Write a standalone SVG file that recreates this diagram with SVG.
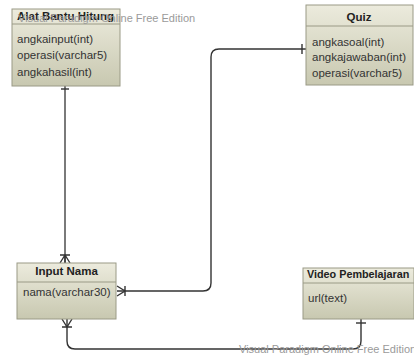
<svg xmlns="http://www.w3.org/2000/svg" width="414" height="356" viewBox="0 0 414 356">
<defs>
<linearGradient id="g" x1="0" y1="0" x2="0" y2="1">
<stop offset="0" stop-color="#ecebdd"/>
<stop offset="1" stop-color="#c8c8b0"/>
</linearGradient>
<style>
.box{fill:url(#g);stroke:#9a9a86;stroke-width:1}
.sep{stroke:#9a9a86;stroke-width:1}
.h{font-family:"Liberation Sans",Arial,sans-serif;font-size:11.5px;font-weight:bold;fill:#222}
.a{font-family:"Liberation Sans",Arial,sans-serif;font-size:11.5px;fill:#333}
.wm{font-family:"Liberation Sans",Arial,sans-serif;font-size:11px;fill:#9a9a9a}
.c{fill:none;stroke:#333;stroke-width:1.4}
.cg{fill:none;stroke:#7a7a7a;stroke-width:2}
</style>
</defs>
<rect width="414" height="356" fill="#fff"/>
<g id="connectors">
<path class="cg" d="M65 86 V263"/>
<path class="c" d="M61 89 H69"/>
<path class="c" d="M60 255 H70 M60 263 L65 255 L70 263 M65 255 V263"/>
<path class="c" d="M117 291 H203 Q211 291 211 283 V57 Q211 49 219 49 H306"/>
<path class="c" d="M302 44 V54"/>
<path class="c" d="M117 286 L125 291 L117 296 M125 286 V296"/>
<path class="c" d="M67 319 V341 Q67 349 75 349 H353 Q361 349 361 341 V319"/>
<path class="c" d="M62 327 H72 M62 319 L67 327 L72 319"/>
<path class="c" d="M356 323 H366"/>
</g>
<g id="alat">
<rect class="box" x="12" y="9" width="108" height="77"/>
<line class="sep" x1="12" y1="24" x2="120" y2="24"/>
<text class="h" x="17" y="20">Alat Bantu Hitung</text>
<text class="a" x="17" y="43">angkainput(int)</text>
<text class="a" x="17" y="59">operasi(varchar5)</text>
<text class="a" x="17" y="76">angkahasil(int)</text>
</g>
<g id="quiz">
<rect class="box" x="306" y="5" width="107" height="80"/>
<line class="sep" x1="306" y1="26" x2="413" y2="26"/>
<text class="h" x="359" y="21" text-anchor="middle">Quiz</text>
<text class="a" x="312" y="46">angkasoal(int)</text>
<text class="a" x="312" y="61">angkajawaban(int)</text>
<text class="a" x="312" y="77">operasi(varchar5)</text>
</g>
<g id="inputnama">
<rect class="box" x="17" y="263" width="99" height="56"/>
<line class="sep" x1="17" y1="282" x2="116" y2="282"/>
<text class="h" x="66.5" y="275" text-anchor="middle">Input Nama</text>
<text class="a" x="23" y="296">nama(varchar30)</text>
</g>
<g id="video">
<rect class="box" x="303" y="268" width="111" height="51"/>
<line class="sep" x1="303" y1="283" x2="414" y2="283"/>
<text class="h" x="307" y="278" style="font-size:10.8px">Video Pembelajaran</text>
<text class="a" x="308" y="302">url(text)</text>
</g>
<text class="wm" x="18" y="22">Visual Paradigm Online Free Edition</text>
<text class="wm" x="239" y="353">Visual Paradigm Online Free Edition</text>
</svg>
